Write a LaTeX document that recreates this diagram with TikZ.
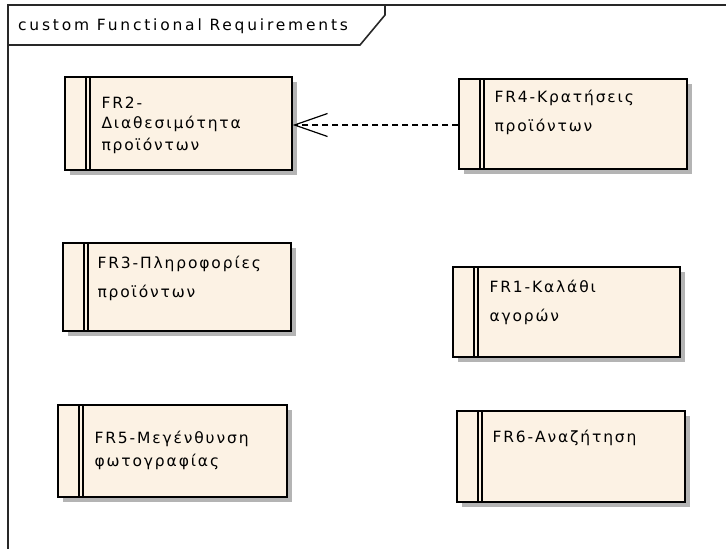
\documentclass[tikz,border=0pt]{standalone}
\usepackage{fontspec}
\setmainfont{DejaVu Sans}[LetterSpace=12]
\newfontfamily\titlefont{DejaVu Sans}[LetterSpace=18]
\usetikzlibrary{arrows.meta}
\definecolor{reqfill}{RGB}{252,242,228}
\definecolor{shadowgray}{RGB}{180,180,180}
\definecolor{framegray}{RGB}{40,40,40}
\newcommand{\reqlines}[1]{\begin{tabular}[t]{@{}l@{}}#1\end{tabular}}
\tikzset{
  req/.style={rectangle, draw=black, line width=1.4pt, fill=reqfill,
    inner sep=0pt,
    preaction={fill=shadowgray, transform canvas={xshift=5pt, yshift=-5pt}},
    path picture={
      \draw[line width=1.4pt] ([xshift=21pt]path picture bounding box.north west)
        -- ([xshift=21pt]path picture bounding box.south west);
      \draw[line width=1.4pt] ([xshift=25pt]path picture bounding box.north west)
        -- ([xshift=25pt]path picture bounding box.south west);
    }},
  reqtext/.style={anchor=base west, inner sep=0pt,
    font=\fontsize{15.5}{21}\selectfont},
  dep/.style={dashed, dash pattern=on 6pt off 4pt, line width=1.2pt,
    -{Straight Barb[length=33pt, width=23pt, line width=1.2pt]}}
}
\begin{document}
\begin{tikzpicture}[x=1pt, y=-1pt]
\useasboundingbox (0,0) rectangle (726,549);

% diagram frame with its name tab
\draw[framegray, line width=1.8pt] (726,5) -- (8,5) -- (8,549);
\draw[framegray, line width=1.6pt] (8,45) -- (360,45) -- (385,15) -- (385,5);
\node[anchor=base west, inner sep=0pt, font=\titlefont\fontsize{15.5}{18}\selectfont]
  (title) at (18,30) {custom Functional Requirements};

% requirement boxes
\node[req, minimum width=227pt, minimum height=93pt] (fr2) at (178.5,123.5) {};
\node[req, minimum width=228pt, minimum height=90pt] (fr4) at (573,124) {};
\node[req, minimum width=228pt, minimum height=88pt] (fr3) at (177,287) {};
\node[req, minimum width=227pt, minimum height=90pt] (fr1) at (566.5,312) {};
\node[req, minimum width=229pt, minimum height=92pt] (fr5) at (172.5,451) {};
\node[req, minimum width=228pt, minimum height=91pt] (fr6) at (571,456.5) {};

% requirement names
\node[reqtext] (fr2t) at ([shift={(37,32)}]fr2.north west)
  {\reqlines{FR2-\\[-1pt]Διαθεσιμότητα\\[1pt]προϊόντων}};
\node[reqtext] (fr4t) at ([shift={(36,24)}]fr4.north west)
  {\reqlines{FR4-Κρατήσεις\\[8pt]προϊόντων}};
\node[reqtext] (fr3t) at ([shift={(35,26)}]fr3.north west)
  {\reqlines{FR3-Πληροφορίες\\[8pt]προϊόντων}};
\node[reqtext] (fr1t) at ([shift={(37,26)}]fr1.north west)
  {\reqlines{FR1-Καλάθι\\[8pt]αγορών}};
\node[reqtext] (fr5t) at ([shift={(37,39)}]fr5.north west)
  {\reqlines{FR5-Μεγένθυνση\\[2pt]φωτογραφίας}};
\node[reqtext] (fr6t) at ([shift={(36,32)}]fr6.north west)
  {FR6-Αναζήτηση};

% dependency
\draw[dep] (fr4.west |- 0,125) -- (fr2.east |- 0,125);
\end{tikzpicture}
\end{document}
